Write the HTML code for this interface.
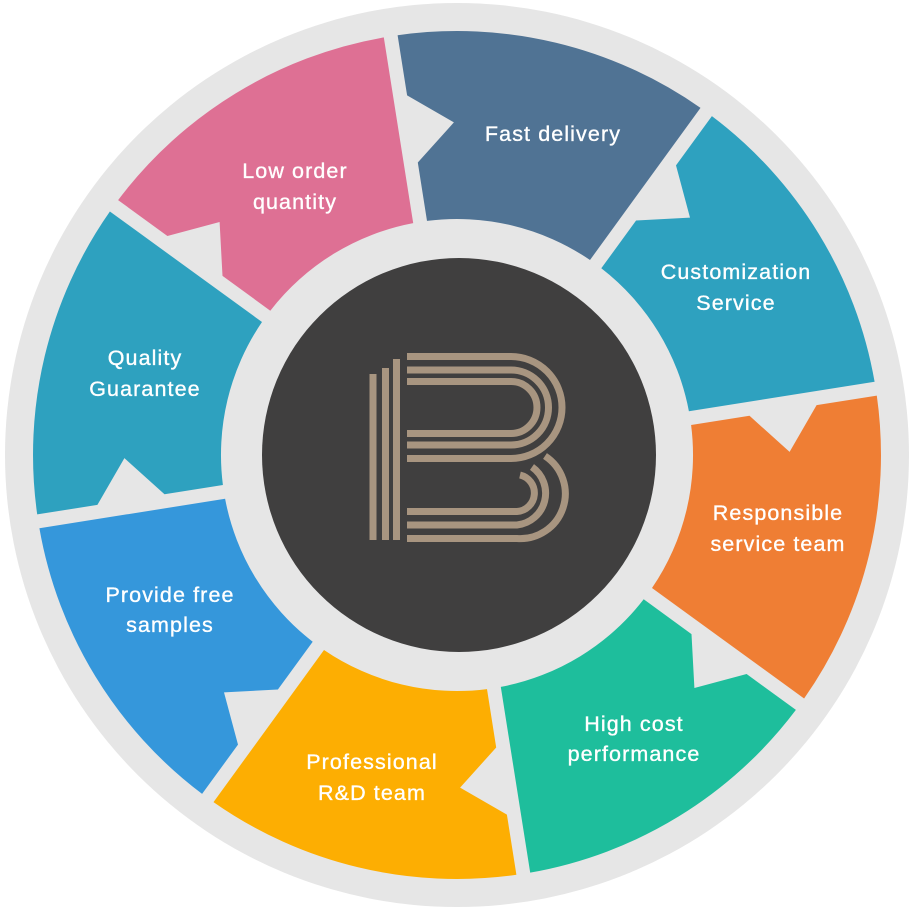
<!DOCTYPE html>
<html><head><meta charset="utf-8">
<style>
html,body{margin:0;padding:0;background:#fff;}
svg{display:block;}
text{font-family:"Liberation Sans",sans-serif;font-size:21.5px;fill:#fff;stroke:#fff;stroke-width:0.35;text-anchor:middle;letter-spacing:1.1px;}
</style></head>
<body>
<svg id="s" width="910" height="910" viewBox="0 0 910 910" xmlns="http://www.w3.org/2000/svg">
<circle cx="457" cy="455" r="452" fill="#e6e6e6"/>
<g id="segs"></g>
<circle cx="459" cy="455" r="197" fill="#403f3f"/>
<g fill="none" stroke="#a89580" stroke-width="7">
<path d="M373 540 V374 M385.5 540 V368 M396.5 540 V359"/>
<path d="M407 356.5 H511 A51 51 0 0 1 511 458.5 H407"/>
<path d="M407 370 H511 A37.5 37.5 0 0 1 511 445 H407"/>
<path d="M407 381.5 H511 A26 26 0 0 1 511 433.5 H407"/>
<path d="M545 456 A45 45 0 0 1 517 538.5 H407"/>
<path d="M532 467 A32 32 0 0 1 517 525 H407"/>
<path d="M520 475 A18.5 18.5 0 0 1 517 511.5 H407"/>
</g>
<text x="553" y="141">Fast delivery</text>
<text x="295" y="178">Low order</text>
<text x="295" y="209">quantity</text>
<text x="736" y="279">Customization</text>
<text x="736" y="310">Service</text>
<text x="778" y="520">Responsible</text>
<text x="778" y="551">service team</text>
<text x="634" y="731">High cost</text>
<text x="634" y="761">performance</text>
<text x="372" y="769">Professional</text>
<text x="372" y="800">R&amp;D team</text>
<text x="170" y="602">Provide free</text>
<text x="170" y="632">samples</text>
<text x="145" y="365">Quality</text>
<text x="145" y="396">Guarantee</text>
</svg>
<script>
(function(){
var cx=457,cy=455,Ro=424,Ri=236,d=7;
var cols=["#507394","#2ea1bf","#ef7e34","#1ebe9c","#fdae02","#3597db","#2ea1bf","#de7094"];
function P(th,r,off){var a=th*Math.PI/180;var ux=Math.sin(a),uy=-Math.cos(a),nx=Math.cos(a),ny=Math.sin(a);
return [(cx+r*ux+off*nx).toFixed(1),(cy+r*uy+off*ny).toFixed(1)];}
var g=document.getElementById('segs'),h='';
for(var i=0;i<8;i++){
 var t0=-9+45*i,t1=t0+45;
 var ri=Math.sqrt(Ri*Ri-d*d),ro=Math.sqrt(Ro*Ro-d*d);
 var p=[];
 p.push('M'+P(t0,ri,d).join(' '));
 p.push('L'+P(t0,295,d).join(' '));
 p.push('L'+P(t0,329,d+42).join(' '));
 p.push('L'+P(t0,363,d).join(' '));
 p.push('L'+P(t0,ro,d).join(' '));
 p.push('A'+Ro+' '+Ro+' 0 0 1 '+P(t1,ro,-d).join(' '));
 p.push('L'+P(t1,ri,-d).join(' '));
 p.push('A'+Ri+' '+Ri+' 0 0 0 '+P(t0,ri,d).join(' ')+'Z');
 h+='<path d="'+p.join(' ')+'" fill="'+cols[i]+'"/>';
}
g.innerHTML=h;
})();
</script>
</body></html>
